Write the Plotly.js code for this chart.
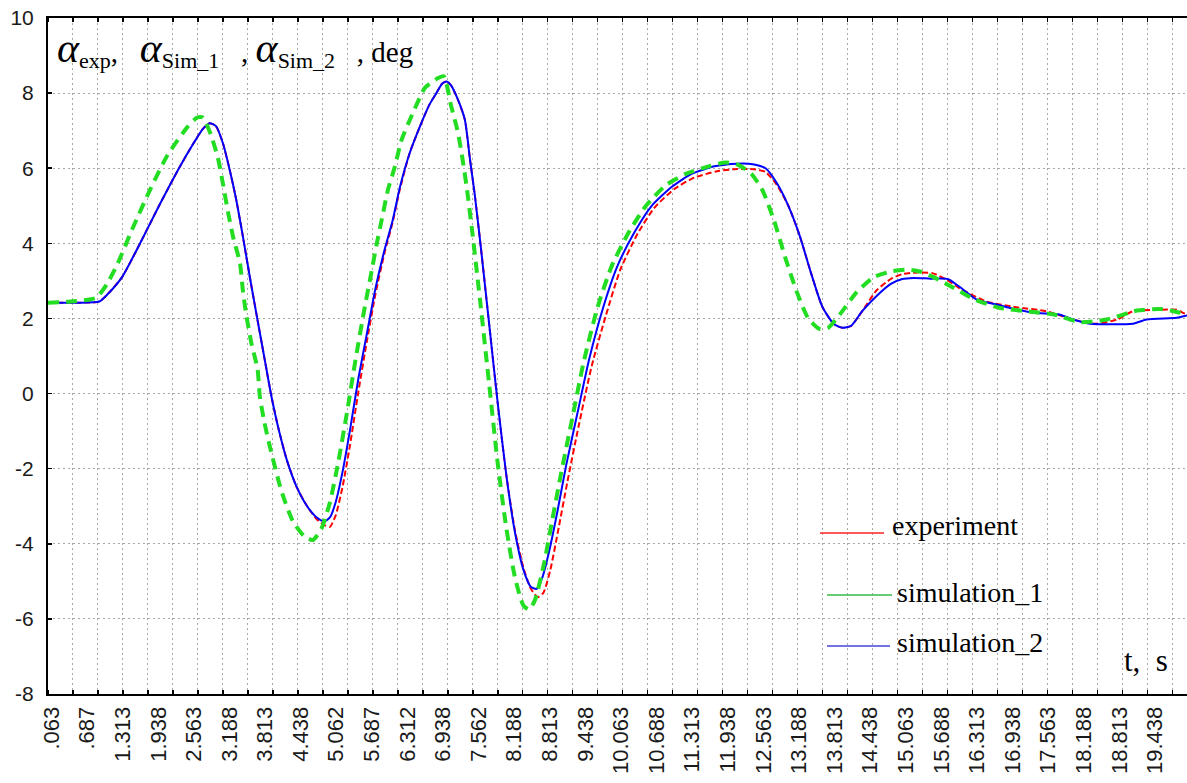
<!DOCTYPE html>
<html>
<head>
<meta charset="utf-8">
<script src="https://cdn.plot.ly/plotly-3.0.1.min.js"></script>
<style>html,body{margin:0;padding:0;overflow:hidden;background:#fff;}</style>
</head>
<body>
<div id="chart" style="width:1187px;height:783px;"></div>
<script>
// ---- data (time in s, angle in deg) ----
const tExp = [0,0.5,0.9,1.05,1.3,1.6,1.95,2.3,2.55,2.72,2.84,2.95,3.07,3.19,3.3,3.42,3.55,3.68,3.8,3.92,4.05,4.2,4.37,4.55,4.72,4.85,4.95,5.05,5.17,5.3,5.45,5.6,5.75,5.91,6.05,6.18,6.35,6.53,6.7,6.82,6.92,7.0,7.08,7.2,7.32,7.41,7.49,7.6,7.75,7.9,8.05,8.2,8.35,8.48,8.6,8.7,8.82,8.97,9.12,9.32,9.55,9.8,10.05,10.35,10.65,11.0,11.35,11.75,12.1,12.4,12.6,12.8,13.0,13.2,13.4,13.6,13.8,13.95,14.1,14.3,14.55,14.8,15.0,15.2,15.54,15.78,16.0,16.48,17.0,17.54,18.0,18.41,18.77,19.05,19.53,19.82,19.93,20];
const vExp = [2.42,2.42,2.45,2.65,3.1,3.95,5.0,6.0,6.65,7.05,7.2,7.12,6.67,5.96,5.2,4.2,3.05,1.95,0.95,-0.05,-0.95,-1.8,-2.5,-3.0,-3.35,-3.5,-3.55,-3.25,-2.5,-1.4,0.05,1.4,2.65,3.75,4.55,5.45,6.4,7.11,7.7,8.0,8.25,8.31,8.2,7.82,7.29,6.23,5.34,3.9,1.8,-0.3,-2.2,-3.65,-4.65,-5.2,-5.42,-5.3,-4.7,-3.55,-2.35,-0.85,0.75,2.1,3.3,4.25,4.95,5.45,5.75,5.92,5.98,5.97,5.9,5.55,5.0,4.2,3.2,2.3,1.85,1.75,1.8,2.2,2.75,3.05,3.18,3.22,3.2,3.03,2.81,2.45,2.3,2.19,1.97,1.86,1.97,2.19,2.23,2.23,2.15,2.1];

const tSim1 = [0,0.4,0.7,0.85,1.03,1.22,1.5,1.8,2.1,2.45,2.62,2.72,2.84,2.98,3.07,3.16,3.25,3.37,3.42,3.48,3.57,3.68,3.72,3.8,3.9,4.1,4.3,4.5,4.65,4.8,4.95,5.1,5.25,5.4,5.55,5.7,5.77,5.86,5.97,6.09,6.21,6.41,6.62,6.85,6.95,7.08,7.2,7.28,7.35,7.45,7.6,7.75,7.9,8.05,8.2,8.35,8.45,8.55,8.7,8.85,9.0,9.2,9.4,9.65,9.9,10.2,10.5,10.85,11.2,11.6,11.9,12.1,12.35,12.55,12.75,12.95,13.15,13.35,13.55,13.7,13.9,14.2,14.5,14.8,15.1,15.31,15.55,15.8,16.28,16.72,17.18,17.68,18.12,18.59,19.12,19.53,19.8,20];
const vSim1 = [2.42,2.45,2.5,2.55,2.9,3.45,4.45,5.45,6.35,7.1,7.35,7.35,6.97,6.3,5.6,4.84,4.17,3.48,2.77,2.1,1.35,0.64,-0.08,-0.77,-1.44,-2.6,-3.4,-3.8,-3.9,-3.6,-2.9,-1.8,-0.5,0.9,2.2,3.4,3.97,4.63,5.43,6.04,6.76,7.48,8.14,8.4,8.45,7.65,6.94,6.23,5.52,4.3,2.3,0.2,-1.9,-3.6,-4.9,-5.65,-5.75,-5.5,-4.6,-3.4,-2.2,-0.7,0.8,2.3,3.4,4.3,5.0,5.55,5.85,6.05,6.15,6.1,5.85,5.4,4.6,3.6,2.7,2.0,1.72,1.75,2.1,2.7,3.1,3.25,3.3,3.25,3.1,2.9,2.5,2.28,2.19,2.1,1.9,1.97,2.21,2.25,2.18,2.1];

const tSim2 = [0,0.5,0.9,1.05,1.3,1.6,1.95,2.3,2.55,2.72,2.84,2.95,3.07,3.19,3.3,3.42,3.55,3.68,3.8,3.92,4.05,4.2,4.37,4.55,4.72,4.85,4.95,5.05,5.17,5.3,5.45,5.6,5.75,5.91,6.05,6.18,6.35,6.53,6.7,6.82,6.92,7.0,7.08,7.2,7.32,7.41,7.49,7.6,7.75,7.9,8.05,8.2,8.35,8.48,8.58,8.68,8.8,8.95,9.1,9.3,9.5,9.75,10.0,10.3,10.6,10.95,11.3,11.7,12.1,12.4,12.6,12.8,13.0,13.2,13.4,13.6,13.8,13.95,14.1,14.3,14.55,14.8,15.0,15.2,15.5,15.8,16.0,16.31,16.66,16.89,17.3,17.77,18.0,18.3,19.05,19.29,19.82,20];
const vSim2 = [2.42,2.42,2.45,2.65,3.1,3.95,5.0,6.0,6.65,7.05,7.2,7.12,6.67,5.96,5.2,4.2,3.05,1.95,0.95,-0.05,-0.95,-1.8,-2.5,-3.0,-3.3,-3.4,-3.3,-2.9,-2.1,-1.0,0.4,1.6,2.8,3.83,4.6,5.5,6.4,7.11,7.7,8.0,8.25,8.31,8.2,7.82,7.29,6.23,5.34,3.9,1.8,-0.3,-2.2,-3.7,-4.7,-5.15,-5.2,-4.9,-4.2,-3.1,-1.9,-0.5,0.9,2.3,3.4,4.3,5.0,5.5,5.85,6.05,6.12,6.1,6.0,5.6,5.0,4.2,3.2,2.3,1.85,1.75,1.8,2.2,2.6,2.92,3.05,3.08,3.06,3.05,2.85,2.5,2.37,2.28,2.15,2.1,1.97,1.86,1.86,1.97,2.02,2.08];

const xTickVals = [0.063,0.688,1.313,1.938,2.563,3.188,3.813,4.438,5.063,5.688,6.313,6.938,7.563,8.188,8.813,9.438,10.063,10.688,11.313,11.938,12.563,13.188,13.813,14.438,15.063,15.688,16.313,16.938,17.563,18.188,18.813,19.438];
const xTickText = [".063",".687","1.313","1.938","2.563","3.188","3.813","4.438","5.062","5.687","6.312","6.938","7.562","8.188","8.813","9.438","10.063","10.688","11.313","11.938","12.563","13.188","13.813","14.438","15.063","15.688","16.313","16.938","17.563","18.188","18.813","19.438"];
const yTickVals = [-8,-6,-4,-2,0,2,4,6,8,10];
const yTickText = ["-8","-6","-4","-2","0","2","4","6","8","10"];
const seriesNames = ["experiment","simulation_1","simulation_2"];

// ---- geometry helpers (pixel -> paper) ----
const W = 1187, H = 783, ML = 48, MR = 0, MT = 18, MB = 89;
const PW = W - ML - MR, PH = H - MT - MB;
const px = x => (x - ML) / PW;
const py = y => (H - MB - y) / PH;

const traces = [
  {x: tExp, y: vExp, name: seriesNames[0], mode: 'lines',
   line: {color: '#ff0000', width: 2, dash: '6px,3px', shape: 'spline', smoothing: 0.6}},
  {x: tSim2, y: vSim2, name: seriesNames[2], mode: 'lines',
   line: {color: '#0000ff', width: 2, shape: 'spline', smoothing: 0.6}},
  {x: tSim1, y: vSim1, name: seriesNames[1], mode: 'lines',
   line: {color: '#22dd22', width: 4, dash: '11px,7px', shape: 'spline', smoothing: 0.6}}
];

const gridStyle = {gridcolor: '#a8a8a8', griddash: '2px,3px', gridwidth: 1};
const serif = 'Liberation Serif, Times New Roman, serif';
const NB = '\u00a0';
const A = '<i style="font-size:42px">α</i>';
const sub = s => '<sub><span style="font-size:22px">' + s + '</span></sub>';
const titleText = A + sub('exp') + ',' + NB + NB + NB + A + sub('Sim_1') + NB + NB + NB + ',' + NB + A + sub('Sim_2') + NB + NB + NB + ',' + NB + 'deg';

const layout = {
  width: W, height: H,
  margin: {l: ML, r: MR, t: MT, b: MB, pad: 0},
  paper_bgcolor: '#fff', plot_bgcolor: '#fff',
  showlegend: false,
  xaxis: {
    range: [0, 20], autorange: false,
    tickmode: 'array', tickvals: xTickVals, ticktext: xTickText,
    tickangle: -90, ticks: '', showgrid: false, zeroline: false,
    tickfont: {family: 'Liberation Sans, Arial, sans-serif', size: 22, color: '#1a1a1a'},
    ticklabelstandoff: 2,
    showline: true, linecolor: '#000', linewidth: 2, mirror: 'ticks',
    minor: Object.assign({tick0: 0, dtick: 0.43874, ticks: 'inside', ticklen: 4, tickcolor: '#000', tickwidth: 1.5, showgrid: true}, gridStyle)
  },
  yaxis: {
    range: [-8, 10], autorange: false,
    tickmode: 'array', tickvals: yTickVals, ticktext: yTickText,
    ticks: 'inside', ticklen: 4, tickcolor: '#000', tickwidth: 1.5,
    showgrid: true, gridcolor: gridStyle.gridcolor, griddash: gridStyle.griddash, gridwidth: 1,
    zeroline: false,
    tickfont: {family: 'Liberation Sans, Arial, sans-serif', size: 21, color: '#1a1a1a'},
    ticklabelstandoff: 8,
    showline: true, linecolor: '#000', linewidth: 2, mirror: false
  },
  annotations: [
    {xref: 'paper', yref: 'paper', x: px(55), y: py(23), xanchor: 'left', yanchor: 'top', showarrow: false,
     text: titleText, font: {family: serif, size: 29, color: '#000'}},
    {xref: 'paper', yref: 'paper', x: px(1122), y: py(660), xanchor: 'left', yanchor: 'middle', showarrow: false,
     text: 't,  s', font: {family: serif, size: 31, color: '#000'}},
    {xref: 'paper', yref: 'paper', x: px(890), y: py(525), xanchor: 'left', yanchor: 'middle', showarrow: false,
     text: seriesNames[0], font: {family: serif, size: 28, color: '#000'}},
    {xref: 'paper', yref: 'paper', x: px(895), y: py(592), xanchor: 'left', yanchor: 'middle', showarrow: false,
     text: seriesNames[1], font: {family: serif, size: 28, color: '#000'}},
    {xref: 'paper', yref: 'paper', x: px(895), y: py(642), xanchor: 'left', yanchor: 'middle', showarrow: false,
     text: seriesNames[2], font: {family: serif, size: 28, color: '#000'}}
  ],
  shapes: [
    {type: 'line', xref: 'paper', yref: 'paper', x0: px(820), x1: px(884), y0: py(533), y1: py(533), line: {color: '#ff2020', width: 1.5}},
    {type: 'line', xref: 'paper', yref: 'paper', x0: px(827), x1: px(892), y0: py(595), y1: py(595), line: {color: '#33bb44', width: 1.5}},
    {type: 'line', xref: 'paper', yref: 'paper', x0: px(827), x1: px(890), y0: py(646), y1: py(646), line: {color: '#4444dd', width: 1.5}}
  ]
};

Plotly.newPlot('chart', traces, layout, {staticPlot: true, displayModeBar: false});
</script>
</body>
</html>
